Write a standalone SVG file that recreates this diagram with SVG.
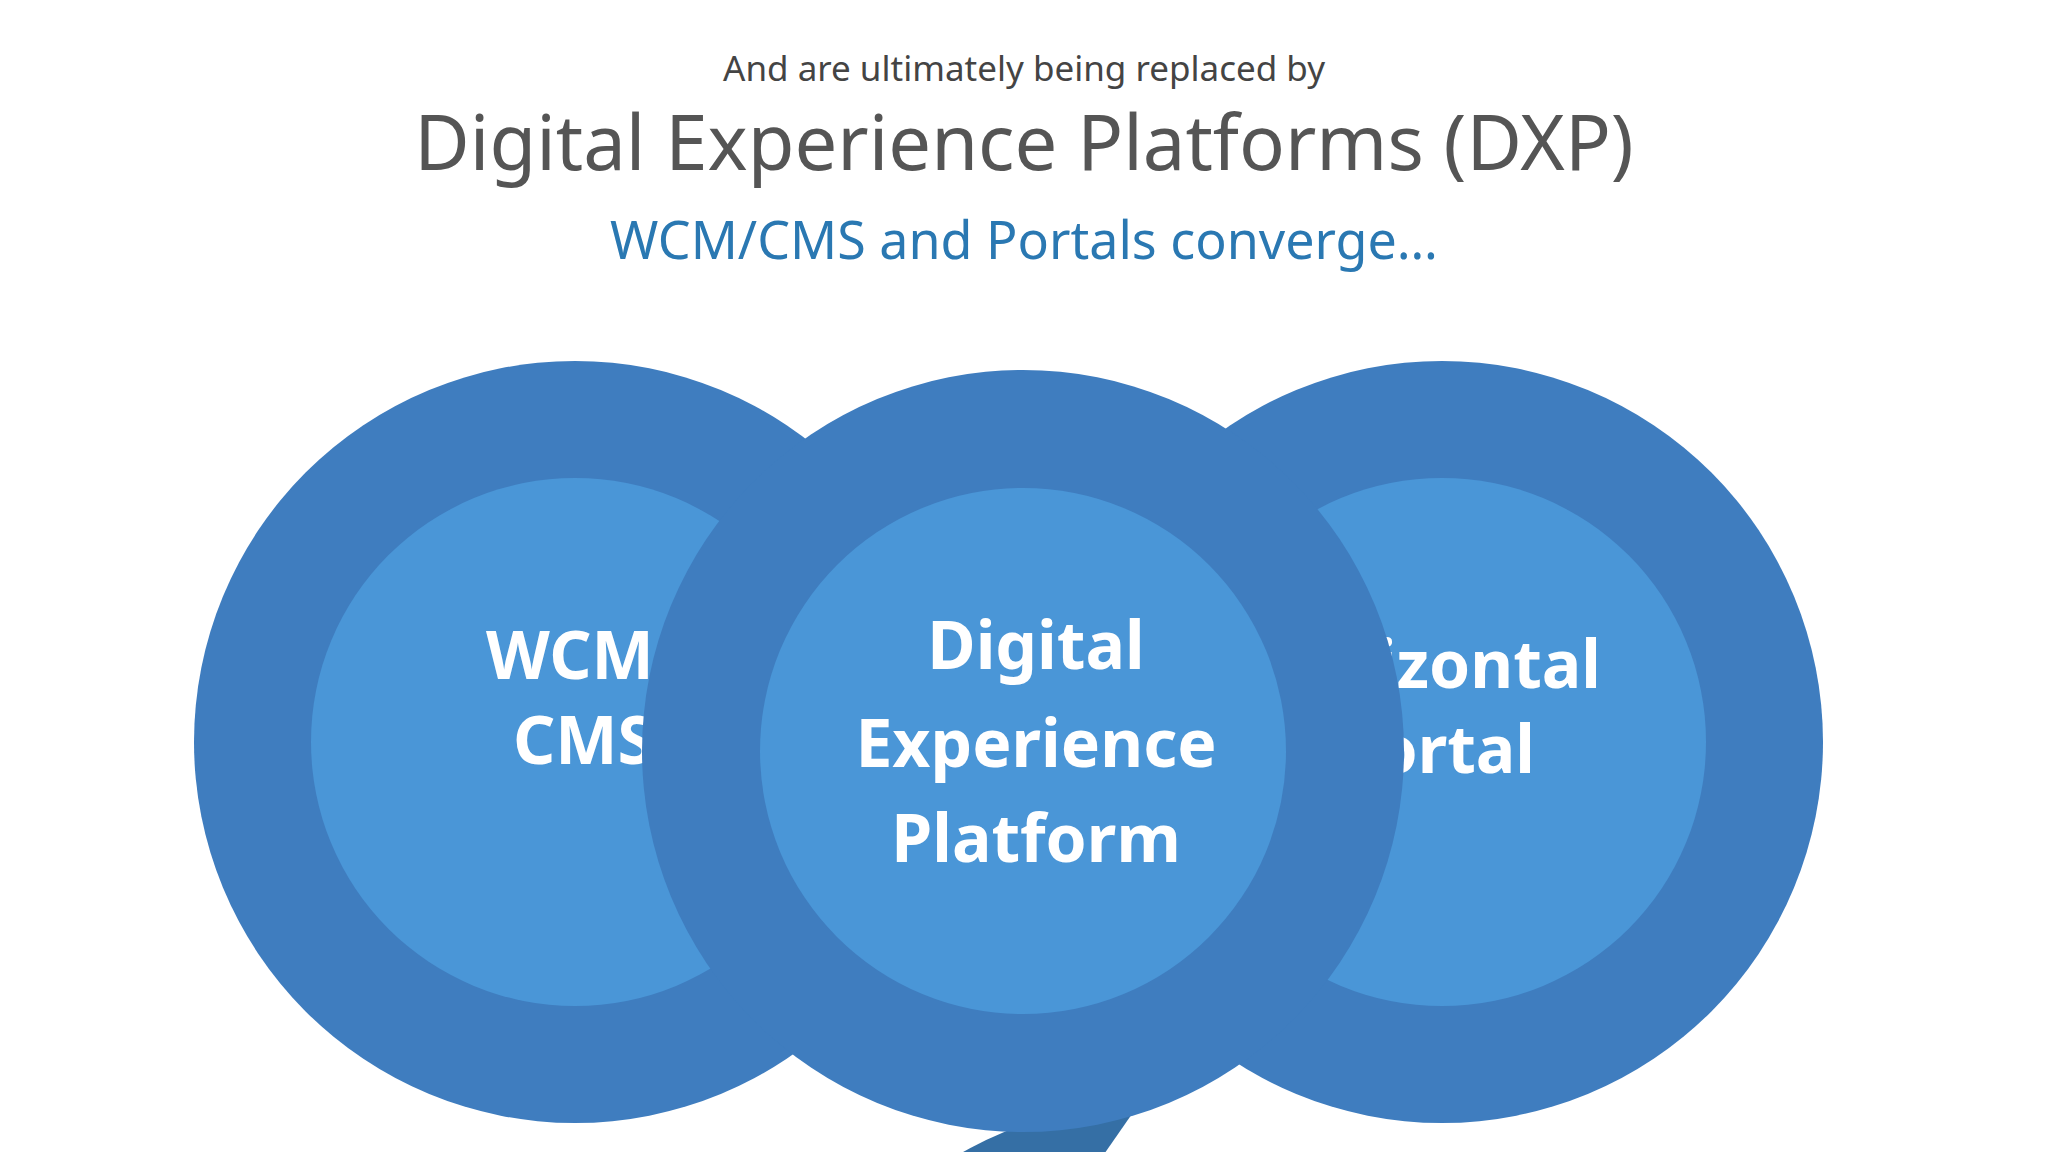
<svg xmlns="http://www.w3.org/2000/svg" width="2048" height="1152" viewBox="0 0 2048 1152">
<style>
.outer{fill:#3f7dbf}.inner{fill:#4a96d7}.shadow{fill:#356fa5}
.lbl{font-family:"Source Sans Pro","Noto Sans","Liberation Sans",sans-serif;font-weight:bold;fill:#fff;font-size:66px}
.hd{font-family:"Source Sans Pro","Noto Sans","Liberation Sans",sans-serif}
</style>
<defs>
<polygon id="sh" points="150,-216 700,166 400,598 -150,216"/>
<clipPath id="cl"><circle cx="575" cy="742" r="381"/></clipPath>
<clipPath id="cm"><circle cx="1023" cy="751" r="381"/></clipPath>
<clipPath id="cr"><circle cx="1442" cy="742" r="381"/></clipPath>
</defs>
<rect width="2048" height="1152" fill="#fff"/>
<text class="hd" x="1024" y="81" text-anchor="middle" font-size="35" fill="#444">And are ultimately being replaced by</text>
<text class="hd" x="1024" y="170" text-anchor="middle" font-size="76" fill="#555">Digital Experience Platforms (DXP)</text>
<text class="hd" x="1024" y="259" text-anchor="middle" font-size="52" fill="#2a78b2">WCM/CMS and Portals converge…</text>
<g id="wcm">
<circle class="outer" cx="575" cy="742" r="381"/>
<use href="#sh" class="shadow" x="575" y="742" clip-path="url(#cl)"/>
<circle class="inner" cx="575" cy="742" r="264"/>
<text class="lbl" x="486" y="679">WCM</text>
<text class="lbl" x="513" y="764">CMS</text>
</g>
<g id="portal">
<circle class="outer" cx="1442" cy="742" r="381"/>
<use href="#sh" class="shadow" x="1442" y="742" clip-path="url(#cr)"/>
<circle class="inner" cx="1442" cy="742" r="264"/>
<text class="lbl" x="1601" y="688" text-anchor="end">Horizontal</text>
<text class="lbl" x="1535" y="773" text-anchor="end">Portal</text>
</g>
<g id="dxp">
<circle class="outer" cx="1023" cy="751" r="381"/>
<use href="#sh" class="shadow" x="1023" y="751" clip-path="url(#cm)"/>
<circle class="inner" cx="1023" cy="751" r="263"/>
<text class="lbl" x="1036" y="669" text-anchor="middle" font-size="72">Digital</text>
<text class="lbl" x="1036" y="767" text-anchor="middle" font-size="72">Experience</text>
<text class="lbl" x="1036" y="862" text-anchor="middle" font-size="72">Platform</text>
</g>
<g id="connectors"/>
</svg>
